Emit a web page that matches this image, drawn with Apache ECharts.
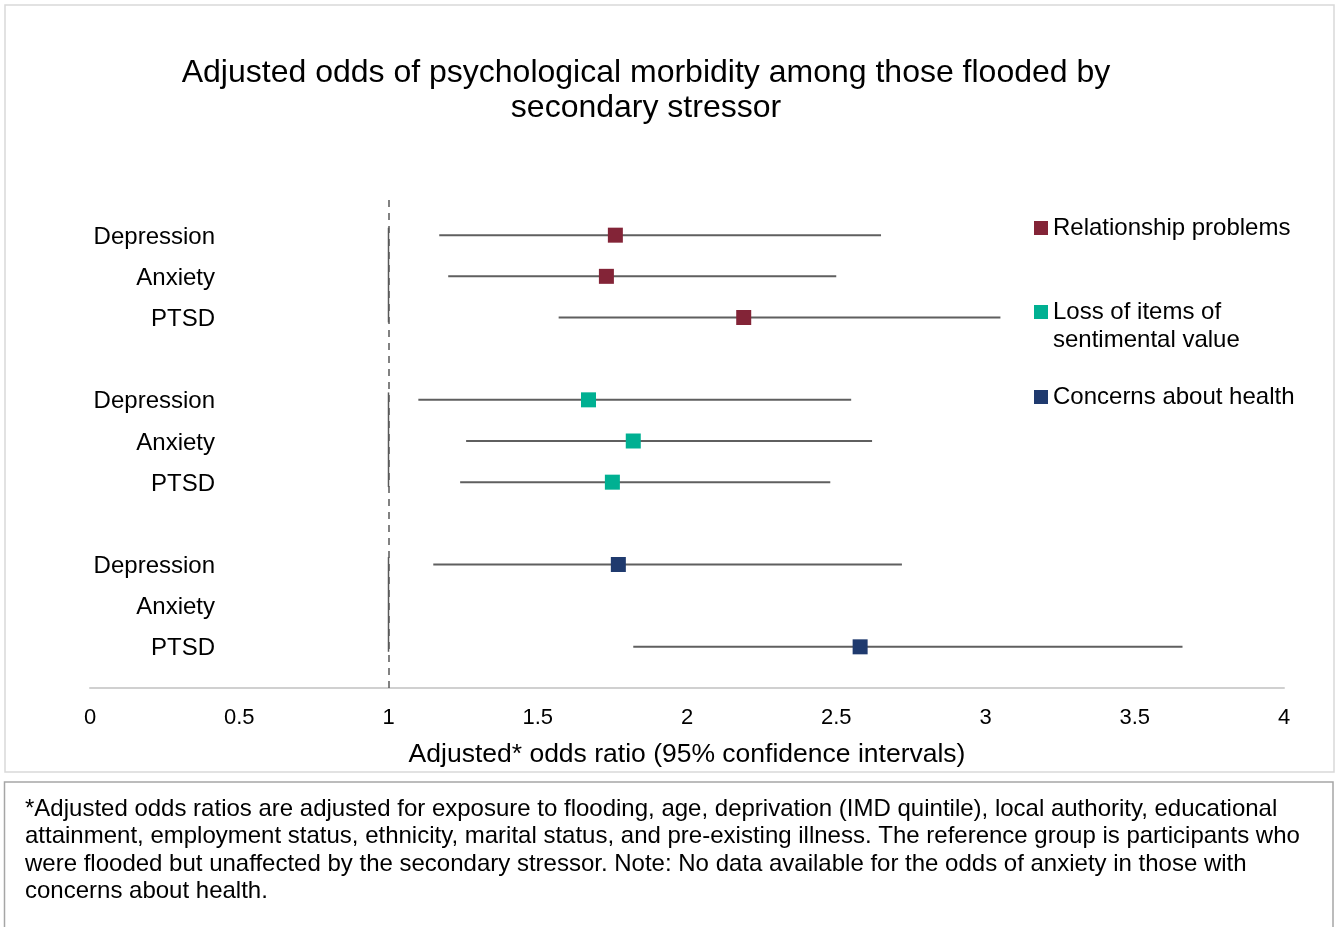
<!DOCTYPE html>
<html>
<head>
<meta charset="utf-8">
<script src="https://cdn.jsdelivr.net/npm/echarts@6/dist/echarts.min.js"></script>
<style>
html,body{margin:0;padding:0;background:#fff;}
#chart{width:1335px;height:927px;}
</style>
</head>
<body>
<div id="chart"></div>
<script>
// ---- data ----
const outcomes = ['Depression', 'Anxiety', 'PTSD'];
const groups = ['Relationship problems', 'Loss of items of\nsentimental value', 'Concerns about health'];
const relPoint = [1.76, 1.73, 2.19];
const relLow   = [1.17, 1.20, 1.57];
const relHigh  = [2.65, 2.50, 3.05];
const lossPoint = [1.67, 1.82, 1.75];
const lossLow   = [1.10, 1.26, 1.24];
const lossHigh  = [2.55, 2.62, 2.48];
const healthPoint = [1.77, null, 2.58];
const healthLow   = [1.15, null, 1.82];
const healthHigh  = [2.72, null, 3.66];
const referenceOR = 1;
const xTicks = { min: 0, max: 4, interval: 0.5 };
const footnote = [
  '*Adjusted odds ratios are adjusted for exposure to flooding, age, deprivation (IMD quintile), local authority, educational',
  'attainment, employment status, ethnicity, marital status, and pre-existing illness. The reference group is participants who',
  'were flooded but unaffected by the secondary stressor. Note: No data available for the odds of anxiety in those with',
  'concerns about health.'
];
const colors = ['#832437', '#00B092', '#1F3A6E'];

// ---- build ----
const FONT = '"Liberation Sans", Arial, sans-serif';
const points = [relPoint, lossPoint, healthPoint];
const lows = [relLow, lossLow, healthLow];
const highs = [relHigh, lossHigh, healthHigh];
const rowOf = (g, i) => 11 - g * 4 - i;
const rowLabel = {};
groups.forEach((g, gi) => outcomes.forEach((o, i) => { rowLabel[rowOf(gi, i)] = o; }));

const series = [];
// reference solid segments per group
const refSeg = groups.map((g, gi) => [referenceOR, rowOf(gi, 0) + 0.18, rowOf(gi, 2) - 0.12]);
series.push({
  type: 'custom',
  silent: true,
  z: 1,
  data: refSeg,
  renderItem: function (params, api) {
    const a = api.coord([api.value(0), api.value(1)]);
    const b = api.coord([api.value(0), api.value(2)]);
    return { type: 'line', shape: { x1: a[0], y1: a[1], x2: b[0], y2: b[1] },
      style: { stroke: '#595959', lineWidth: 1.5 } };
  }
});
// CI lines
const ciData = [];
groups.forEach((g, gi) => outcomes.forEach((o, i) => {
  if (lows[gi][i] != null) ciData.push([lows[gi][i], highs[gi][i], rowOf(gi, i)]);
}));
series.push({
  type: 'custom',
  silent: true,
  z: 2,
  data: ciData,
  renderItem: function (params, api) {
    const a = api.coord([api.value(0), api.value(2)]);
    const b = api.coord([api.value(1), api.value(2)]);
    return { type: 'line', shape: { x1: a[0], y1: a[1], x2: b[0], y2: b[1] },
      style: { stroke: '#5f5f5f', lineWidth: 2 } };
  },
  markLine: {
    silent: true, symbol: 'none', label: { show: false },
    lineStyle: { color: '#595959', type: [7, 6], width: 1.5 },
    data: [{ xAxis: referenceOR }]
  }
});
groups.forEach((g, gi) => {
  const d = [];
  outcomes.forEach((o, i) => { if (points[gi][i] != null) d.push([points[gi][i], rowOf(gi, i)]); });
  series.push({
    name: g, type: 'scatter', symbol: 'rect', symbolSize: 15, z: 3,
    itemStyle: { color: colors[gi], opacity: 1 },
    data: d
  });
});

const legendBase = {
  orient: 'vertical', left: 1034, padding: 0, itemWidth: 14, itemHeight: 14,
  icon: 'rect', selectedMode: false,
  textStyle: { fontFamily: FONT, fontSize: 24, color: '#000', lineHeight: 28 }
};

const chart = echarts.init(document.getElementById('chart'), null, { renderer: 'canvas' });
chart.setOption({
  backgroundColor: '#fff',
  animation: false,
  title: {
    text: 'Adjusted odds of psychological morbidity among those flooded by\nsecondary stressor',
    left: 646, top: 56, padding: 0, textAlign: 'center',
    textStyle: { fontFamily: FONT, fontSize: 32, fontWeight: 'normal', color: '#000', lineHeight: 35 }
  },
  legend: [
    Object.assign({}, legendBase, { data: [groups[0]], top: 214 }),
    Object.assign({}, legendBase, { data: [groups[1]], top: 270, formatter: n => '\n' + n }),
    Object.assign({}, legendBase, { data: [groups[2]], top: 383 })
  ],
  grid: { left: 90, right: 51, top: 194, bottom: 239, containLabel: false },
  xAxis: {
    type: 'value', min: xTicks.min, max: xTicks.max, interval: xTicks.interval,
    splitLine: { show: false }, axisTick: { show: false },
    axisLine: { show: true, lineStyle: { color: '#d0d0d0', width: 2 } },
    axisLabel: { fontFamily: FONT, fontSize: 22, color: '#000', margin: 19,
      formatter: v => String(v) },
    name: 'Adjusted* odds ratio (95% confidence intervals)',
    nameLocation: 'middle', nameGap: 53,
    nameTextStyle: { fontFamily: FONT, fontSize: 26.5, color: '#000' }
  },
  yAxis: {
    type: 'value', min: 0, max: 12, interval: 1,
    axisLine: { show: false }, axisTick: { show: false }, splitLine: { show: false },
    axisLabel: { fontFamily: FONT, fontSize: 24, color: '#000', margin: -125,
      formatter: v => rowLabel[v] ? '{a|' + rowLabel[v] + '}' : '',
      rich: { a: { fontFamily: FONT, fontSize: 24, color: '#000', padding: [4, 0, 0, 0] } } }
  },
  graphic: [
    { type: 'rect', shape: { x: 5, y: 5, width: 1329, height: 767 },
      style: { fill: 'none', stroke: '#d9d9d9', lineWidth: 1.5 }, silent: true, z: -10 },
    { type: 'rect', shape: { x: 4.5, y: 782, width: 1328.5, height: 200 },
      style: { fill: 'none', stroke: '#a6a6a6', lineWidth: 1.5 }, silent: true, z: -10 },
    { type: 'text', left: 25, top: 795.5, silent: true,
      style: { text: footnote.join('\n'), fontFamily: FONT, fontSize: 24, lineHeight: 27.4, fill: '#000' } }
  ],
  series: series
});
</script>
</body>
</html>
